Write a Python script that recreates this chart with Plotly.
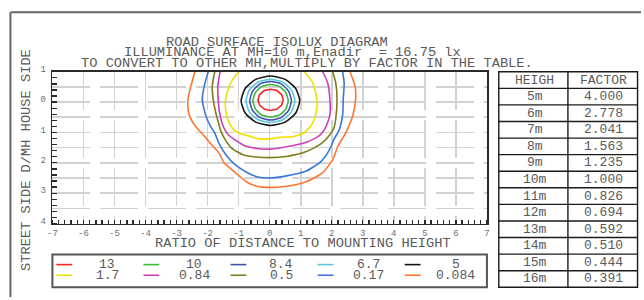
import plotly.graph_objects as go

# ---------------- data ----------------
levels = ["13", "10", "8.4", "6.7", "5", "1.7", "0.84", "0.5", "0.17", "0.084"]
colors = ["#ff2020", "#3cb83c", "#3f52b0", "#5cc8dc", "#151515",
          "#f0e000", "#cc3fb8", "#7d7d1e", "#3a78d6", "#ff7430"]

x_13 = [0.44, 0.385, 0.235, 0.03, -0.175, -0.325, -0.38, -0.325, -0.175, 0.03, 0.235, 0.385, 0.44]
y_13 = [0.075, 0.25, 0.38, 0.425, 0.38, 0.25, 0.075, -0.10, -0.23, -0.275, -0.23, -0.10, 0.075]

x_10 = [0.60, 0.52, 0.32, 0.03, -0.26, -0.46, -0.54, -0.46, -0.26, 0.03, 0.32, 0.52, 0.60]
y_10 = [0.045, 0.31, 0.51, 0.58, 0.51, 0.31, 0.045, -0.22, -0.42, -0.49, -0.42, -0.22, 0.045]

x_84 = [0.70, 0.61, 0.37, 0.03, -0.31, -0.55, -0.64, -0.55, -0.31, 0.03, 0.37, 0.61, 0.70]
y_84 = [0.045, 0.36, 0.60, 0.68, 0.60, 0.36, 0.045, -0.27, -0.51, -0.59, -0.51, -0.27, 0.045]

x_67 = [0.81, 0.70, 0.42, 0.025, -0.37, -0.655, -0.76, -0.655, -0.37, 0.025, 0.42, 0.70, 0.81]
y_67 = [0.04, 0.40, 0.66, 0.75, 0.66, 0.40, 0.04, -0.32, -0.58, -0.67, -0.58, -0.32, 0.04]

x_5 = [0.97, 0.84, 0.50, 0.025, -0.45, -0.79, -0.92, -0.79, -0.45, 0.025, 0.50, 0.84, 0.97]
y_5 = [0.045, 0.45, 0.75, 0.86, 0.75, 0.45, 0.045, -0.36, -0.66, -0.77, -0.66, -0.36, 0.045]

x_17 = [-1.00, -1.26, -1.42, -1.42, -1.32, -1.11, -0.73, -0.36, 0.0, 0.44, 0.70, 1.11, 1.37, 1.50, 1.52, 1.39, 1.12]
y_17 = [1.0, 0.63, 0.10, -0.22, -0.65, -0.96, -1.10, -1.21, -1.21, -1.15, -1.15, -1.01, -0.72, -0.33, 0.10, 0.63, 1.0]

x_084 = [-1.60, -1.67, -1.66, -1.60, -1.47, -1.31, -1.05, -0.84, -0.41, 0.0, 0.54, 1.18, 1.60, 1.78, 1.94, 1.94, 1.87, 1.71]
y_084 = [1.0, 0.52, 0.10, -0.43, -0.86, -1.10, -1.29, -1.42, -1.53, -1.55, -1.47, -1.32, -1.10, -0.88, -0.43, 0.10, 0.63, 1.0]

x_05 = [-1.77, -1.85, -1.82, -1.74, -1.63, -1.58, -1.42, -1.21, -0.84, -0.41, 0.0, 0.54, 1.18, 1.66, 1.92, 2.07, 2.13, 2.17, 2.13, 2.03]
y_05 = [1.0, 0.52, 0.10, -0.33, -0.75, -0.94, -1.26, -1.53, -1.74, -1.81, -1.83, -1.79, -1.63, -1.37, -1.10, -0.85, -0.54, 0.10, 0.63, 1.0]

x_017 = [-1.98, -2.11, -2.17, -2.06, -1.90, -1.77, -1.63, -1.37, -1.05, -0.73, -0.41, 0.0, 0.54, 1.18, 1.66, 1.92, 2.08, 2.23, 2.35, 2.37, 2.40, 2.35]
y_017 = [1.0, 0.52, 0.10, -0.43, -0.81, -1.01, -1.37, -1.79, -2.11, -2.32, -2.46, -2.50, -2.43, -2.27, -1.95, -1.58, -1.21, -0.94, -0.43, 0.10, 0.63, 1.0]

x_0084 = [-2.41, -2.59, -2.64, -2.59, -2.38, -2.20, -1.90, -1.63, -1.47, -1.11, -0.73, -0.41, 0.0, 0.54, 1.18, 1.71, 2.03, 2.19, 2.45, 2.68, 2.77, 2.75, 2.59]
y_0084 = [1.0, 0.31, -0.01, -0.43, -0.81, -1.01, -1.37, -1.68, -2.00, -2.32, -2.64, -2.77, -2.81, -2.77, -2.62, -2.32, -1.90, -1.47, -1.01, -0.43, 0.10, 0.52, 1.0]

contours_x = [x_13, x_10, x_84, x_67, x_5, x_17, x_084, x_05, x_017, x_0084]
contours_y = [y_13, y_10, y_84, y_67, y_5, y_17, y_084, y_05, y_017, y_0084]

x_ticks = [-7, -6, -5, -4, -3, -2, -1, 0, 1, 2, 3, 4, 5, 6, 7]
x_ticktext = ["-7", "-6", "-5", "-4", "-3", "-2", "-1", "0", "1", "2", "3", "4", "5", "6", "7"]
y_ticks = [1, 0.5, 0, -0.5, -1, -1.5, -2, -2.5, -3, -3.5, -4]
y_ticktext = ["1", "", "0", "", "1", "", "2", "", "3", "", "4"]

table_header = ["HEIGH", "FACTOR"]
heights = ["5m", "6m", "7m", "8m", "9m", "10m", "11m", "12m", "13m", "14m", "15m", "16m"]
factors = ["4.000", "2.778", "2.041", "1.563", "1.235", "1.000", "0.826", "0.694",
           "0.592", "0.510", "0.444", "0.391"]

title_lines = ["ROAD SURFACE ISOLUX DIAGRAM",
               "ILLUMINANCE AT MH=10 m,Enadir  = 16.75 lx",
               "TO CONVERT TO OTHER MH,MULTIPLY BY FACTOR IN THE TABLE."]

# ---------------- figure ----------------
W, H = 644, 300
MONO = "Liberation Mono, Courier New, monospace"
TXT = "#5a5a5a"


def px(x):
    return x / W


def py(y):
    return 1 - y / H


fig = go.Figure()

for i, (cx, cy) in enumerate(zip(contours_x, contours_y)):
    fig.add_trace(go.Scatter(
        x=cx, y=cy, mode="lines",
        line=dict(color=colors[i], width=1.6,
                  shape="linear" if i == 0 else "spline", smoothing=0.6),
        showlegend=False, hoverinfo="skip"))

grid = dict(gridcolor="#d2d2d2", gridwidth=1.6, griddash="38px,10px")

fig.update_xaxes(domain=[px(48), px(488)], range=[-7, 7],
                 tickvals=x_ticks, ticktext=x_ticktext, ticks="",
                 showline=True, linecolor="#2a2a2a", linewidth=1.8, mirror=True,
                 zeroline=False, showgrid=True, **grid,
                 tickfont=dict(family=MONO, size=9, color="#707070"),
                 minor=dict(dtick=0.2, tick0=0, ticks="inside", ticklen=4,
                            tickcolor="#2a2a2a", tickwidth=1.3, showgrid=False))
fig.update_yaxes(domain=[py(224), py(67)], range=[-4, 1],
                 tickvals=y_ticks, ticktext=y_ticktext, ticks="",
                 showline=True, linecolor="#2a2a2a", linewidth=1.8, mirror=True,
                 zeroline=False, showgrid=True, **grid,
                 ticklabelshift=-3, ticklabelstandoff=3,
                 tickfont=dict(family=MONO, size=9, color="#707070"),
                 minor=dict(dtick=0.2, tick0=0, ticks="inside", ticklen=5,
                            tickcolor="#2a2a2a", tickwidth=1.3, showgrid=False))

annotations = []
shapes = []

# titles
title_left = [163, 120, 77]
title_y = [36.5, 47.5, 58.5]
for t, lx, ty in zip(title_lines, title_left, title_y):
    annotations.append(dict(text=t, x=px(lx - 2), y=py(ty), xref="paper", yref="paper",
                            xanchor="left", yanchor="middle", showarrow=False,
                            font=dict(family=MONO, size=13.7, color=TXT)))

annotations.append(dict(text="RATIO OF DISTANCE TO MOUNTING HEIGHT", x=px(301.5), y=py(244.5),
                        xref="paper", yref="paper", xanchor="center", yanchor="middle",
                        showarrow=False, font=dict(family=MONO, size=13.7, color=TXT)))
annotations.append(dict(text="STREET SIDE D/MH HOUSE SIDE", x=px(21), y=py(158.5),
                        xref="paper", yref="paper", xanchor="center", yanchor="middle",
                        textangle=-90, showarrow=False,
                        font=dict(family=MONO, size=13.7, color=TXT)))

# outer frame
shapes += [
    dict(type="line", xref="paper", yref="paper", x0=px(5.5), x1=px(5.5), y0=py(300), y1=py(5.5),
         line=dict(color="#666666", width=2)),
    dict(type="line", xref="paper", yref="paper", x0=px(5.5), x1=px(644), y0=py(5.5), y1=py(5.5),
         line=dict(color="#666666", width=2)),
]

# legend box
shapes.append(dict(type="rect", xref="paper", yref="paper", x0=px(48), x1=px(488),
                   y0=py(290), y1=py(256), line=dict(color="#555555", width=2),
                   fillcolor="white", layer="below"))
for i, lev in enumerate(levels):
    col, row = i % 5, i // 5
    ly = 266.5 + 11 * row
    lx0 = 52 + 88.2 * col
    shapes.append(dict(type="line", xref="paper", yref="paper", x0=px(lx0), x1=px(lx0 + 16),
                       y0=py(ly), y1=py(ly), line=dict(color=colors[i], width=1.6)))
    annotations.append(dict(text=lev, x=px(103.5 + 88.2 * col), y=py(ly), xref="paper", yref="paper",
                            xanchor="center", yanchor="middle", showarrow=False,
                            font=dict(family=MONO, size=13, color=TXT)))

# factor table (drawn with shapes + text)
tx0, tx1, tmid, ty0 = 500, 640.5, 570, 67
row_h = 17.15
rows = [table_header] + [[h, f] for h, f in zip(heights, factors)]
ty1 = ty0 + row_h * len(rows)
tline = dict(color="#1a1a1a", width=1.4)
shapes.append(dict(type="rect", xref="paper", yref="paper", x0=px(tx0), x1=px(tx1),
                   y0=py(ty1), y1=py(ty0), line=tline, fillcolor="white", layer="below"))
shapes.append(dict(type="line", xref="paper", yref="paper", x0=px(tmid), x1=px(tmid),
                   y0=py(ty1), y1=py(ty0), line=tline))
for r, (a, b) in enumerate(rows):
    top = ty0 + r * row_h
    if r > 0:
        shapes.append(dict(type="line", xref="paper", yref="paper", x0=px(tx0), x1=px(tx1),
                           y0=py(top), y1=py(top), line=tline))
    cyc = top + row_h / 2
    for txt, cxc in ((a, (tx0 + tmid) / 2 + 1.5), (b, (tmid + tx1) / 2 + 1)):
        annotations.append(dict(text=txt, x=px(cxc), y=py(cyc), xref="paper", yref="paper",
                                xanchor="center", yanchor="middle", showarrow=False,
                                font=dict(family=MONO, size=13, color=TXT)))

fig.update_layout(width=W, height=H, autosize=False,
                  margin=dict(l=0, r=0, t=0, b=0),
                  paper_bgcolor="white", plot_bgcolor="white",
                  annotations=annotations, shapes=shapes, showlegend=False)

fig.write_html("out.html",
               config={"displayModeBar": False, "staticPlot": True},
               post_script="document.body.style.margin='0px';"
                           "document.body.style.padding='0px';"
                           "document.body.style.overflow='hidden';")
